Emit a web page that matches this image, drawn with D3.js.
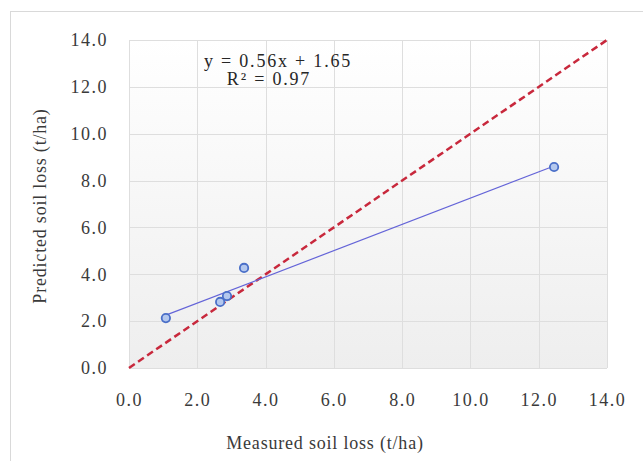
<!DOCTYPE html>
<html>
<head>
<meta charset="utf-8">
<script src="https://cdn.jsdelivr.net/npm/d3@7"></script>
<style>
  body { margin: 0; background: #fff; }
  text { font-family: "Liberation Serif", "DejaVu Serif", serif; }
</style>
</head>
<body>
<div id="chart"></div>
<script>
// measured vs predicted soil loss (t/ha)
var measured = [1.08, 2.67, 2.87, 3.37, 12.45];
var predicted = [2.13, 2.82, 3.07, 4.27, 8.58];
var ticks = [0, 2, 4, 6, 8, 10, 12, 14];
var slope = 0.56, intercept = 1.65;
var eqLines = ["y = 0.56x + 1.65", "R\u00b2 = 0.97"];

var W = 643, H = 461;
var margin = { left: 129, top: 40, right: 36, bottom: 93 };
var pw = W - margin.left - margin.right,
    ph = H - margin.top - margin.bottom;

var svg = d3.select("#chart").append("svg")
    .attr("width", W).attr("height", H);

// outer chart frame
svg.append("rect")
    .attr("x", 10.5).attr("y", 11.5)
    .attr("width", W).attr("height", H)
    .attr("fill", "#fff").attr("stroke", "#d9d9d9");

var defs = svg.append("defs");
var grad = defs.append("linearGradient").attr("id", "bg")
    .attr("x1", 0).attr("y1", 0).attr("x2", 0).attr("y2", 1);
grad.append("stop").attr("offset", "0%").attr("stop-color", "#ffffff");
grad.append("stop").attr("offset", "100%").attr("stop-color", "#eeeeee");

var g = svg.append("g").attr("transform", "translate(" + margin.left + "," + margin.top + ")");

var x = d3.scaleLinear().domain([0, 14]).range([0, pw]);
var y = d3.scaleLinear().domain([0, 14]).range([ph, 0]);

g.append("rect").attr("width", pw).attr("height", ph).attr("fill", "url(#bg)");

// grid
g.append("g").selectAll("line").data(ticks).enter().append("line")
    .attr("x1", 0).attr("x2", pw)
    .attr("y1", function (d) { return Math.round(y(d)) + 0.5; })
    .attr("y2", function (d) { return Math.round(y(d)) + 0.5; })
    .attr("stroke", "#dedede");
g.append("g").selectAll("line").data(ticks).enter().append("line")
    .attr("y1", 0).attr("y2", ph)
    .attr("x1", function (d) { return Math.round(x(d)) + 0.5; })
    .attr("x2", function (d) { return Math.round(x(d)) + 0.5; })
    .attr("stroke", "#dedede");

// axes (labels only)
var fmt = d3.format(".1f");
var xAxis = g.append("g").attr("transform", "translate(0," + ph + ")")
    .call(d3.axisBottom(x).tickValues(ticks).tickFormat(fmt).tickSize(0).tickPadding(25));
var yAxis = g.append("g")
    .call(d3.axisLeft(y).tickValues(ticks).tickFormat(fmt).tickSize(0).tickPadding(21));
[xAxis, yAxis].forEach(function (a) {
    a.select(".domain").remove();
    a.selectAll("text")
        .style("font-family", "'Liberation Serif', serif")
        .style("font-size", "18px").style("letter-spacing", "1.5px")
        .attr("fill", "#3a3a3a");
});

// 1:1 line
g.append("line")
    .attr("x1", x(0)).attr("y1", y(0)).attr("x2", x(14)).attr("y2", y(14))
    .attr("stroke", "#c8283c").attr("stroke-width", 2.5)
    .attr("stroke-dasharray", "7,4");

// trend line
var xr = d3.extent(measured);
g.append("line")
    .attr("x1", x(xr[0])).attr("y1", y(slope * xr[0] + intercept))
    .attr("x2", x(xr[1])).attr("y2", y(slope * xr[1] + intercept))
    .attr("stroke", "#6464d8").attr("stroke-width", 1.2);

// points
g.selectAll("circle").data(measured).enter().append("circle")
    .attr("cx", function (d) { return x(d); })
    .attr("cy", function (d, i) { return y(predicted[i]); })
    .attr("r", 4.2)
    .attr("fill", "#b4c8ee").attr("stroke", "#4a6fc8").attr("stroke-width", 1.8);

// equation
g.selectAll(".eq").data(eqLines).enter().append("text")
    .attr("class", "eq")
    .attr("x", function (d, i) { return i == 0 ? 149 : 140; })
    .attr("y", function (d, i) { return 27 + i * 18; })
    .attr("text-anchor", "middle")
    .style("font-size", "18px").style("letter-spacing", "1.8px")
    .attr("fill", "#262626")
    .text(function (d) { return d; });

// axis titles
svg.append("text")
    .attr("x", 325).attr("y", 449)
    .attr("text-anchor", "middle")
    .style("font-size", "18px").style("letter-spacing", "0.8px")
    .attr("fill", "#3a3a3a")
    .text("Measured soil loss (t/ha)");
svg.append("text")
    .attr("transform", "translate(46,206) rotate(-90)")
    .attr("text-anchor", "middle")
    .style("font-size", "18px").style("letter-spacing", "0.8px")
    .attr("fill", "#3a3a3a")
    .text("Predicted soil loss (t/ha)");
</script>
</body>
</html>
